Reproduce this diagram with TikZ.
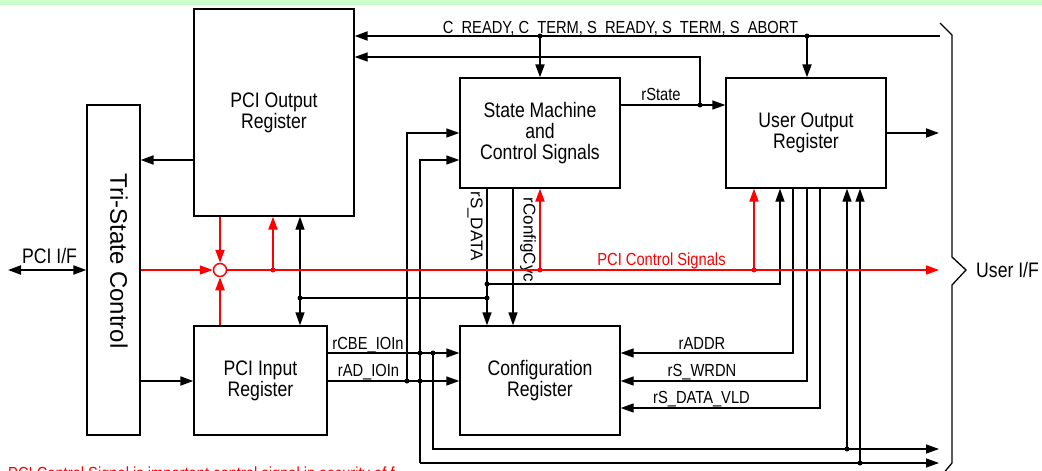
\documentclass[tikz,border=0pt]{standalone}
\usepackage{fontspec}
\setmainfont{Liberation Sans}
\newfontfamily\nf{Liberation Sans}[FakeStretch=0.84]
\usetikzlibrary{arrows.meta}
\definecolor{bandgreen}{RGB}{204,255,204}
\definecolor{sigred}{RGB}{255,0,0}
\begin{document}
\begin{tikzpicture}[x=1pt,y=-1pt,
  box/.style={draw, line width=1.3pt, inner sep=0pt, align=center,
    font=\nf\fontsize{21}{21}\selectfont},
  wire/.style={line width=1.3pt},
  twire/.style={line width=2pt},
  rwire/.style={line width=1.5pt, draw=sigred},
  rtwire/.style={line width=2pt, draw=sigred},
  arr/.style={-{Triangle[length=13pt,width=9pt]}},
  darr/.style={{Triangle[length=13pt,width=9pt]}-{Triangle[length=13pt,width=9pt]}},
  jdot/.style={circle, fill, inner sep=0pt, minimum size=5pt},
  lab/.style={font=\nf\fontsize{17.5}{18}\selectfont, inner sep=0pt},
  rlab/.style={font=\fontsize{17}{17}\selectfont, inner sep=0pt, rotate=-90},
  big/.style={font=\nf\fontsize{21}{21}\selectfont, inner sep=0pt}
]
\useasboundingbox (0,0) rectangle (1042,471);
\fill[bandgreen] (0,0) rectangle (1042,5);

% boxes
\node[box, minimum width=160pt, minimum height=207pt] (pciout) at (274,112.5) {PCI Output\\Register};
\node[box, minimum width=53pt, minimum height=330pt] (tri) at (113.5,270) {};
\node[inner sep=0pt, rotate=-90, font=\fontsize{24}{24}\selectfont] (tritext) at (119,261) {Tri-State Control};
\node[box, minimum width=160pt, minimum height=110pt] (sm) at (540,133) {State Machine\\and\\Control Signals};
\node[box, minimum width=160pt, minimum height=110pt] (uo) at (806,133) {User Output\\Register};
\node[box, minimum width=160pt, minimum height=109pt] (cfg) at (540,380.5) {Configuration\\Register};
\node[box, minimum width=133pt, minimum height=109pt] (pciin) at (260.5,380.5) {PCI Input\\Register};

% coordinates
\coordinate (busR) at (940,36);
\coordinate (jA) at (540,36);
\coordinate (jB) at (807,36);
\coordinate (jS) at (700,105);
\coordinate (fbk) at (700,57);
\coordinate (y160) at (0,160);
\coordinate (y381) at (0,381);
\coordinate (y353) at (0,353);
\coordinate (pcif) at (8,270);
\coordinate (b1) at (300,298);
\coordinate (b2) at (487,298);
\coordinate (b3) at (487,284);
\coordinate (b4) at (780,284);
\coordinate (cx) at (513,250);
\coordinate (v407) at (407,381);
\coordinate (v407t) at (407,133);
\coordinate (u2b) at (420,463);
\coordinate (u2t) at (420,160);
\coordinate (u1t) at (433,353);
\coordinate (u1b) at (433,449);
\coordinate (e1) at (939,449);
\coordinate (e2) at (939,463);
\coordinate (k1) at (847,449);
\coordinate (k2) at (860,463);
\coordinate (a1) at (793,353);
\coordinate (a2) at (807,381);
\coordinate (a3) at (820,408);
\coordinate (uoR) at (939,133);
\coordinate (redR) at (939,270);
\coordinate (r1) at (273,270);
\coordinate (r2) at (540,270);
\coordinate (r3) at (754,270);

% top bus
\draw[twire, arr] (busR) -- (pciout.east |- busR);
\draw[twire, arr] (jA) -- (sm.north);
\draw[twire, arr] (jB) -- (jB |- uo.north);
\node[jdot] at (jA) {};
\node[jdot] at (jB) {};
\node[lab, anchor=base] (toplab) at (620.5,33) {C\_READY, C\_TERM, S\_READY, S\_TERM, S\_ABORT};

% rState
\draw[wire, arr] (sm.east |- jS) -- (uo.west |- jS);
\draw[wire, arr] (jS) -- (fbk) -- (pciout.east |- fbk);
\node[jdot] at (jS) {};
\node[lab, anchor=base] (rstate) at (661,100) {rState};

% user output to right
\draw[twire, arr] (uo.east |- uoR) -- (uoR);

% PCI output / tri-state / PCI input
\draw[twire, arr] (pciout.west |- y160) -- (tri.east |- y160);
\draw[twire, arr] (tri.east |- y381) -- (pciin.west |- y381);
\draw[twire, darr] (pcif) -- (tri.west |- pcif);
\node[big, anchor=base] (pcilab) at (49.5,263) {PCI I/F};

% black double arrow and rS_DATA branches
\draw[wire, arr] (b1) -- (b1 |- pciout.south);
\draw[wire, arr] (b1) -- (b1 |- pciin.north);
\draw[wire] (b1) -- (b2);
\draw[wire, arr] (b2 |- sm.south) -- (b2 |- cfg.north);
\draw[wire, arr] (b3) -- (b4) -- (b4 |- uo.south);
\node[jdot] at (b1) {};
\node[jdot] at (b2) {};
\node[jdot] at (b3) {};
\node[rlab] (rsdata) at (475,226) {rS\_DATA};

% rConfigCyc
\draw[wire, arr] (cx |- sm.south) -- (cx |- cfg.north);
\node[rlab] (rcfg) at (528,240) {rConfigCyc};

% PCI input to config
\draw[wire, arr] (pciin.east |- y353) -- (cfg.west |- y353);
\draw[wire, arr] (pciin.east |- y381) -- (cfg.west |- y381);
\node[lab, anchor=base] (lcbe) at (368,349) {rCBE\_IOIn};
\node[lab, anchor=base] (lad) at (368.5,376) {rAD\_IOIn};

% feedback lines to state machine and outputs
\draw[wire, arr] (v407) -- (v407t) -- (sm.west |- v407t);
\draw[wire, arr] (u2b) -- (u2t) -- (sm.west |- u2t);
\draw[wire, arr] (u2b) -- (e2);
\draw[wire, arr] (u1t) -- (u1b) -- (e1);
\node[jdot] at (v407) {};
\node[jdot] at (420,381) {};
\node[jdot] at (420,353) {};
\node[jdot] at (u1t) {};
\draw[wire, arr] (k1) -- (k1 |- uo.south);
\draw[wire, arr] (k2) -- (k2 |- uo.south);
\node[jdot] at (k1) {};
\node[jdot] at (k2) {};

% user output to config
\draw[wire, arr] (a1 |- uo.south) -- (a1) -- (cfg.east |- a1);
\draw[wire, arr] (a2 |- uo.south) -- (a2) -- (cfg.east |- a2);
\draw[wire, arr] (a3 |- uo.south) -- (a3) -- (cfg.east |- a3);
\node[lab, anchor=base] (laddr) at (702,349) {rADDR};
\node[lab, anchor=base] (lwrdn) at (702,376) {rS\_WRDN};
\node[lab, anchor=base] (lvld) at (701.5,403) {rS\_DATA\_VLD};

% red control signals
\node[circle, draw=sigred, fill=white, line width=1.5pt, minimum size=13pt, inner sep=0pt] (circ) at (220,270) {};
\draw[rwire, arr, fill=sigred] (tri.east |- circ) -- (circ.west);
\draw[rtwire, arr, fill=sigred] (circ |- pciout.south) -- (circ.north);
\draw[rtwire, arr, fill=sigred] (circ |- pciin.north) -- (circ.south);
\draw[rwire, arr, fill=sigred] (circ.east) -- (redR);
\draw[rtwire, arr, fill=sigred] (r1) -- (r1 |- pciout.south);
\draw[rtwire, arr, fill=sigred] (r2) -- (sm.south);
\draw[rtwire, arr, fill=sigred] (r3) -- (r3 |- uo.south);
\node[jdot, fill=sigred] at (r1) {};
\node[jdot, fill=sigred] at (r2) {};
\node[jdot, fill=sigred] at (r3) {};
\node[lab, anchor=base, text=sigred] (pcictl) at (661.5,265) {PCI Control Signals};

% user I/F brace
\draw[line width=1.3pt] (940,23) -- (952,35) -- (952,257) -- (966,270) -- (952,285) -- (952,463) -- (942,475);
\node[big, anchor=base west] (uif) at (976,277) {User I/F};

% cut-off note (cut off at the lower edge, as in the reference)
\begin{scope}
\clip (0,0) rectangle (1042,471);
\node[lab, anchor=base west, text=sigred] (note) at (8,479.5) {PCI Control Signal is important control signal in security of f};
\end{scope}
\end{tikzpicture}
\end{document}
